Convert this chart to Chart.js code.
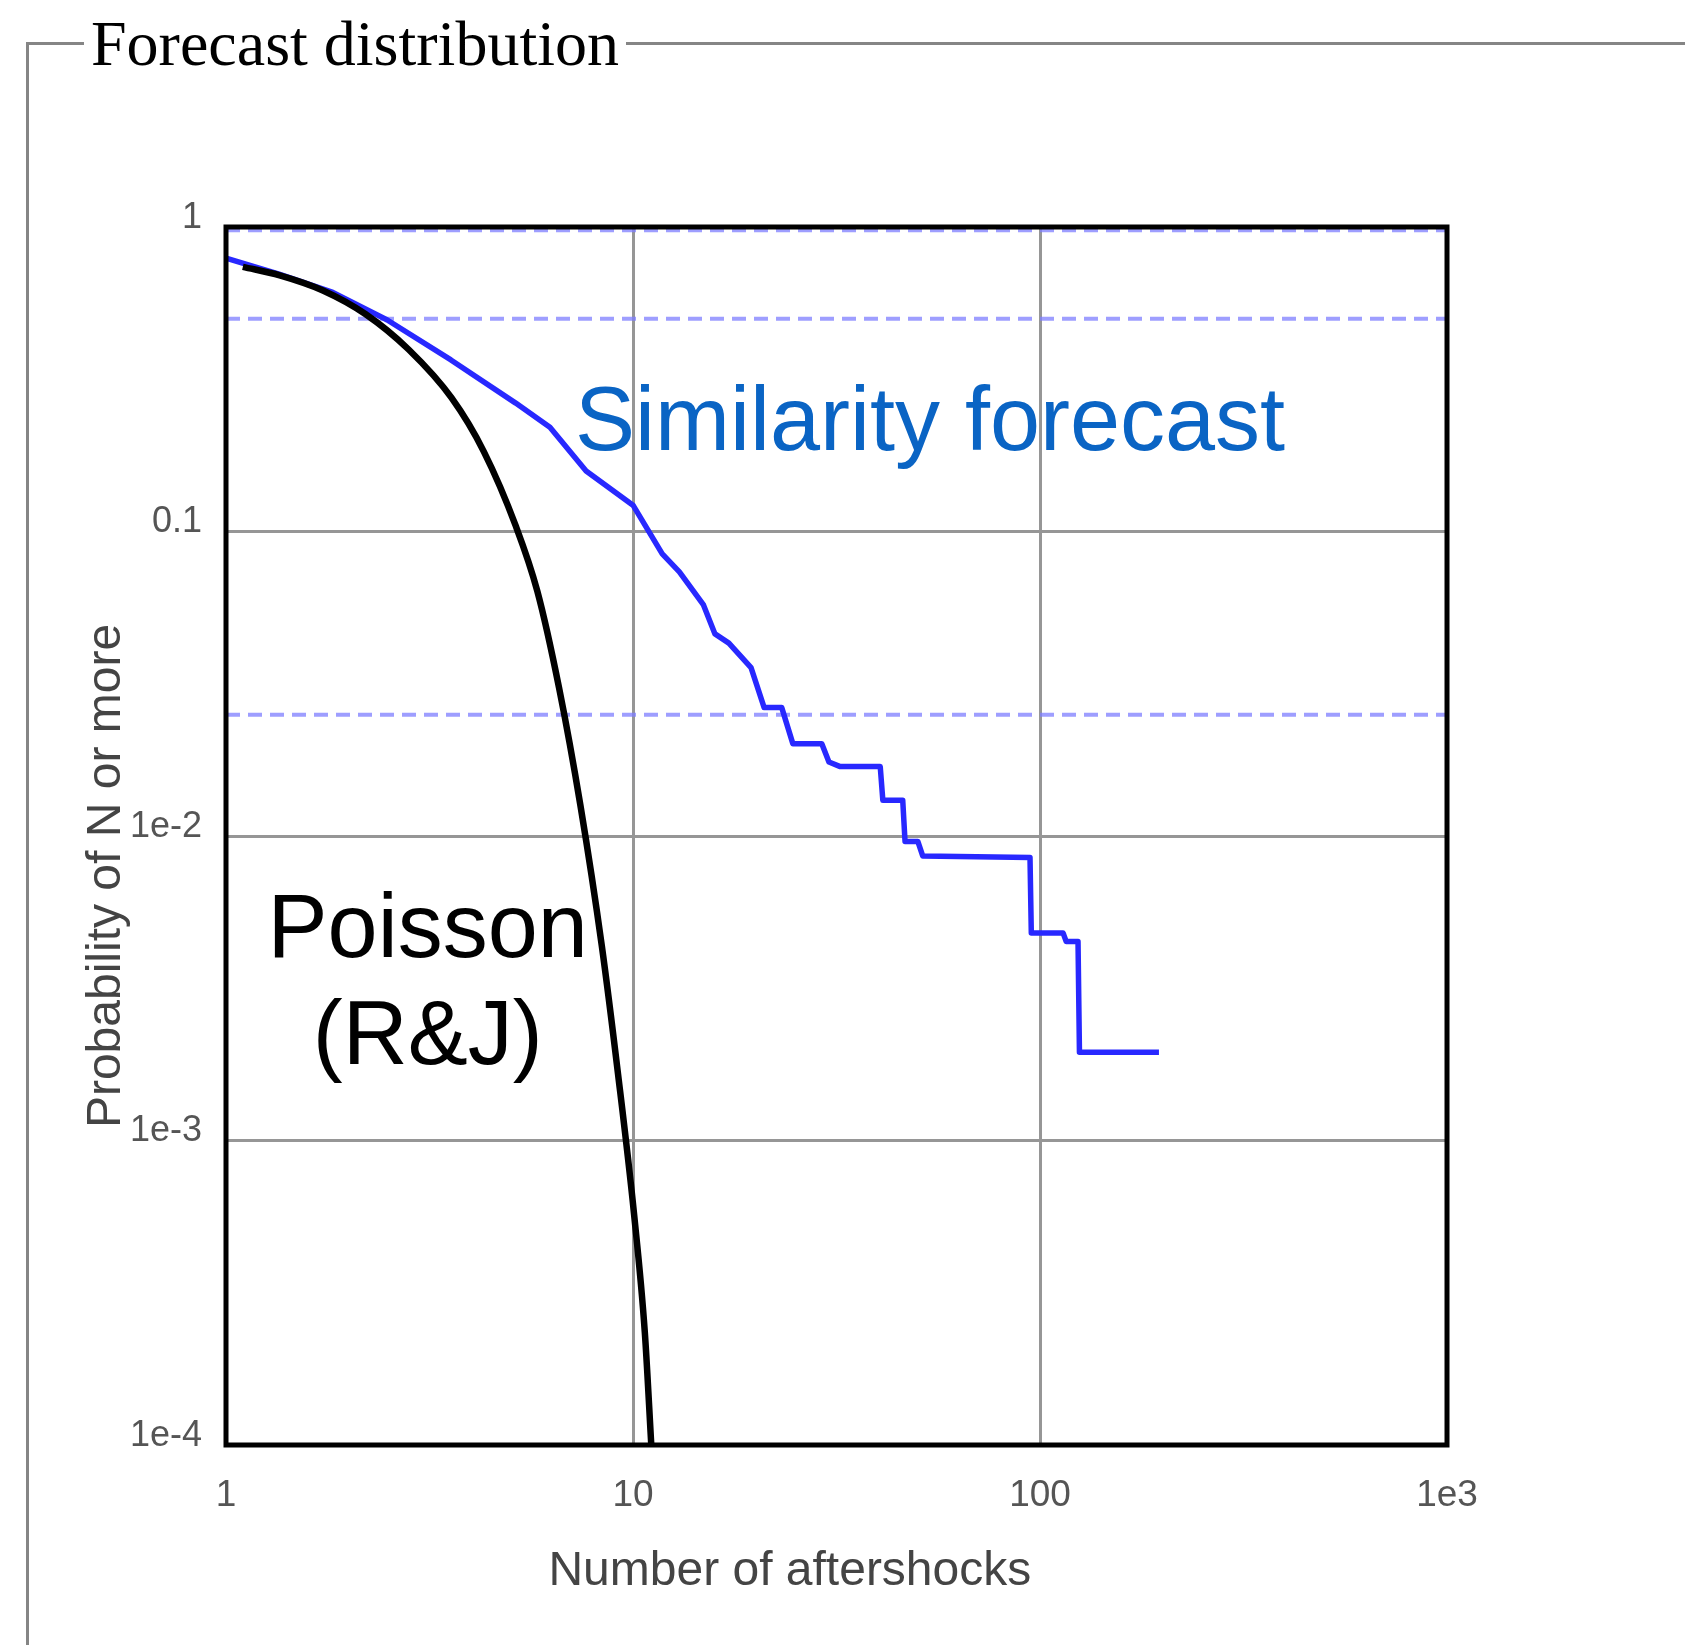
<!DOCTYPE html>
<html>
<head>
<meta charset="utf-8">
<title>Forecast distribution</title>
<script src="https://cdn.jsdelivr.net/npm/chart.js@4"></script>
<style>
  html, body { margin: 0; padding: 0; background: #fff; overflow: hidden; }
  body { width: 1685px; height: 1645px; position: relative; }
  fieldset {
    position: absolute; left: 26px; top: 8px;
    width: 2000px; height: 2000px;
    margin: 0; padding: 0;
    border: 3px solid #858585;
  }
  legend {
    font: 64px "Liberation Serif", "Times New Roman", serif;
    line-height: 71px;
    padding: 0 7px;
    margin-left: 55px;
    color: #000;
  }
  .chart-box { position: absolute; left: 0; top: 0; width: 1685px; height: 1645px; }
</style>
</head>
<body>
<fieldset><legend>Forecast distribution</legend></fieldset>
<div class="chart-box"><canvas id="forecast-chart"></canvas></div>
<script>
// axis ticks
const xTicks = [1, 10, 100, 1000];
const xTickLabels = ['1', '10', '100', '1e3'];
const yTicks = [1e-4, 1e-3, 1e-2, 0.1, 1];
const yTickLabels = ['1e-4', '1e-3', '1e-2', '0.1', '1'];

// similarity forecast: P(N or more) vs number of aftershocks
const similarityN = [1.0, 1.35, 1.83, 2.49, 3.57, 5.15, 6.25, 7.67, 10.0, 11.8, 13.0, 14.9, 15.9, 17.2, 19.5,
    21.0, 23.2, 24.7, 29.1, 30.3, 32.3, 40.5, 41.1, 46.0, 46.6, 50.1, 51.5, 94.5, 95.2, 114, 116, 124, 125, 196];
const similarityP = [0.79, 0.70, 0.61, 0.495, 0.366, 0.264, 0.22, 0.158, 0.122, 0.0844, 0.0737, 0.0574, 0.0461, 0.043, 0.0357,
    0.0264, 0.0264, 0.0201, 0.0201, 0.0175, 0.0169, 0.0169, 0.0131, 0.0131, 0.0096, 0.0096, 0.0086, 0.0085, 0.0048, 0.0048, 0.0045, 0.0045, 0.00195, 0.00195];

// Poisson (R&J)
const poissonN = [1.10, 1.355, 1.73, 2.20, 2.81, 3.58, 4.30, 5.16, 5.82, 6.58, 7.43, 8.38, 9.19, 10.06, 10.69, 11.09];
const poissonP = [0.740, 0.694, 0.619, 0.518, 0.396, 0.275, 0.183, 0.1037, 0.0637, 0.0307, 0.01256, 0.00437, 0.00165, 0.000573, 0.000235, 0.0001];

// quantile guides
const quantileLevels = [0.975, 0.5, 0.025];

const toPoints = (xs, ys) => xs.map((x, i) => ({ x: x, y: ys[i] }));

const guides = quantileLevels.map(q => ({
    data: [{ x: xTicks[0], y: q }, { x: xTicks[xTicks.length - 1], y: q }],
    borderColor: 'rgba(125, 125, 255, 0.75)',
    borderWidth: 4,
    borderDash: [14, 8],
    pointRadius: 0,
    order: 2,
}));

const data = {
    datasets: [
        {
            label: 'Poisson (R&J)',
            data: toPoints(poissonN, poissonP),
            borderColor: '#000',
            borderWidth: 6.5,
            pointRadius: 0,
            cubicInterpolationMode: 'monotone',
            order: 0,
        },
        {
            label: 'Similarity forecast',
            data: toPoints(similarityN, similarityP),
            borderColor: 'rgb(40, 40, 255)',
            borderWidth: 5.5,
            borderJoinStyle: 'round',
            pointRadius: 0,
            tension: 0,
            order: 1,
        },
        ...guides,
    ]
};

// black box round the plot area
const plotFrame = {
    id: 'plotFrame',
    afterDatasetsDraw(chart) {
        const { ctx, chartArea: a } = chart;
        ctx.save();
        ctx.strokeStyle = '#000';
        ctx.lineWidth = 5;
        ctx.strokeRect(a.left, a.top, a.right - a.left, a.bottom - a.top);
        ctx.restore();
    }
};

// curve labels, anchored to data values
const curveNotes = {
    id: 'curveNotes',
    beforeDraw(chart, args, opts) {
        const { ctx, scales: { x, y } } = chart;
        ctx.save();
        opts.items.forEach(n => {
            ctx.font = n.font;
            ctx.fillStyle = n.color;
            ctx.textAlign = n.align;
            ctx.textBaseline = 'alphabetic';
            ctx.fillText(n.text, x.getPixelForValue(n.x), y.getPixelForValue(n.y));
        });
        ctx.restore();
    }
};

const tickFont = { family: '"Liberation Sans", Arial, sans-serif', size: 37 };
const titleFont = { family: '"Liberation Sans", Arial, sans-serif', size: 48 };

const config = {
    type: 'line',
    data,
    plugins: [plotFrame, curveNotes],
    options: {
        responsive: true,
        maintainAspectRatio: false,
        animation: false,
        devicePixelRatio: 1,
        layout: {
            padding: { left: 74, top: 227, right: 238, bottom: 40 }
        },
        plugins: {
            legend: { display: false },
            tooltip: { enabled: false },
            curveNotes: {
                items: [
                    { text: 'Similarity forecast', x: 7.2, y: 0.185, align: 'left', color: '#0a64c4',
                      font: '90px "Liberation Sans", Arial, sans-serif' },
                    { text: 'Poisson', x: 3.13, y: 0.0040, align: 'center', color: '#000',
                      font: '90px "Liberation Sans", Arial, sans-serif' },
                    { text: '(R&J)', x: 3.13, y: 0.00179, align: 'center', color: '#000',
                      font: '90px "Liberation Sans", Arial, sans-serif' },
                ]
            }
        },
        scales: {
            x: {
                type: 'logarithmic',
                min: 1,
                max: 1000,
                afterBuildTicks: s => { s.ticks = xTicks.map(v => ({ value: v })); },
                afterFit: s => { s.height = 160; },
                grid: { color: '#969696', lineWidth: 3, drawTicks: false },
                border: { display: false },
                ticks: {
                    autoSkip: false,
                    maxRotation: 0,
                    padding: 29,
                    color: '#555',
                    font: tickFont,
                    callback: v => xTickLabels[xTicks.indexOf(v)] ?? '',
                },
                title: {
                    display: true,
                    text: 'Number of aftershocks       ',
                    color: '#444',
                    font: titleFont,
                }
            },
            y: {
                type: 'logarithmic',
                min: 1e-4,
                max: 1,
                afterBuildTicks: s => { s.ticks = yTicks.map(v => ({ value: v })); },
                afterFit: s => { s.width = 152; },
                grid: { color: '#969696', lineWidth: 3, drawTicks: false },
                border: { display: false },
                ticks: {
                    autoSkip: false,
                    padding: 24,
                    labelOffset: -9,
                    color: '#555',
                    font: { family: tickFont.family, size: 36 },
                    callback: v => yTickLabels[yTicks.indexOf(v)] ?? '',
                },
                title: {
                    display: true,
                    text: 'Probability of N or more      ',
                    color: '#444',
                    font: titleFont,
                }
            }
        }
    }
};

const forecastChart = new Chart(document.getElementById('forecast-chart'), config);
</script>
</body>
</html>
